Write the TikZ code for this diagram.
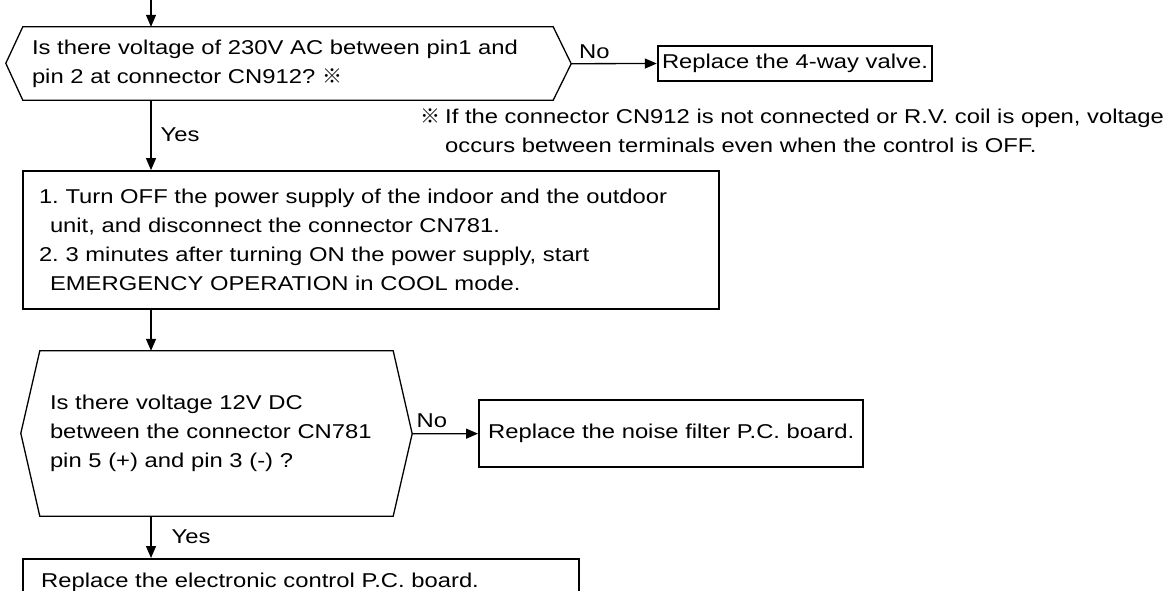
\documentclass[tikz,border=0pt]{standalone}
\usepackage{fontspec}
\setmainfont{Liberation Sans}[FakeStretch=1.19]
\newfontfamily\cjk{Noto Sans CJK JP}
\usetikzlibrary{arrows.meta,positioning}
\frenchspacing

\begin{document}
\begin{tikzpicture}[
  x=1pt, y=-1pt,
  font=\fontsize{20pt}{29pt}\selectfont,
  >={Triangle[length=12pt,width=10pt]},
  flow/.style   ={->,line width=1.3pt},
  hexline/.style={line width=1.3pt,line join=miter},
  ask/.style    ={align=left,inner ysep=0pt,minimum height=#1},
  act/.style    ={draw,line width=1.8pt,align=left},
  fix/.style    ={draw,line width=2.4pt,align=left},
  lbl/.style    ={inner sep=0pt},
]
\useasboundingbox (0,0) rectangle (1171,590);
\coordinate (spine) at (151,0);

%% =====================================================
%%  First check: 230V AC at CN912
%% =====================================================
\node[ask=73pt,text width=512pt,inner xsep=9pt] (q1) at (288,63.5)
      {Is there voltage of 230V AC between pin1 and\\
       pin 2 at connector CN912? {\cjk ※}};
\draw[hexline] (q1.north west) -- ++(-17,36.5) -- (q1.south west)
      -- (q1.south east) -- ++(18,-36.5) coordinate (q1e)
      -- (q1.north east) -- cycle;

\draw[flow] (spine) -- (q1.north -| spine);

\node[fix,minimum width=274pt,minimum height=35pt,inner xsep=4pt] (valve)
      at (795,63.5) {Replace the 4-way valve.};
\draw[flow] (q1e) -- node[lbl,above=4pt,pos=0.27] {No} (valve.west);

% footnote to the mark
\node[lbl,anchor=north west,align=left] (note) at (420,108.5)
      {\makebox[25pt][l]{\cjk ※}If the connector CN912 is not connected or R.V. coil is open, voltage\\
       \hspace*{25pt}occurs between terminals even when the control is OFF.};

%% =====================================================
%%  Emergency operation
%% =====================================================
\node[act,minimum width=696pt,minimum height=138pt,text width=664pt,
      inner xsep=16pt] (steps) at (371,240)
      {1. Turn OFF the power supply of the indoor and the outdoor\\
       \hspace*{11pt}unit, and disconnect the connector CN781.\\
       2. 3 minutes after turning ON the power supply, start\\
       \hspace*{11pt}EMERGENCY OPERATION in COOL mode.};
\draw[flow] (q1.south -| spine) -- node[lbl,right=9pt] {Yes} (steps.north -| spine);

%% =====================================================
%%  Second check: 12V DC at CN781
%% =====================================================
\node[ask=165pt,text width=333pt,inner xsep=10pt] (q2) at (216.5,433.5)
      {Is there voltage 12V DC\\
       between the connector CN781\\
       pin 5 (+) and pin 3 (-) ?};
\draw[hexline] (q2.north west) -- ++(-19,82.5) -- (q2.south west)
      -- (q2.south east) -- ++(19,-82.5) coordinate (q2e)
      -- (q2.north east) -- cycle;
\draw[flow] (steps.south -| spine) -- (q2.north -| spine);

\node[fix,anchor=west,minimum width=384pt,minimum height=67pt,inner xsep=7pt]
      (noise) at (478,433.5) {Replace the noise filter P.C. board.};
\draw[flow] (q2e) -- node[lbl,above=5pt,pos=0.3] {No} (noise);

\node[fix,anchor=north west,minimum width=556pt,minimum height=46pt,
      text width=520pt,inner xsep=18pt] (pcb) at (22,558)
      {Replace the electronic control P.C. board.};
\draw[flow] (q2.south -| spine) -- node[lbl,right=20pt] {Yes} (pcb.north -| spine);

\end{tikzpicture}
\end{document}
